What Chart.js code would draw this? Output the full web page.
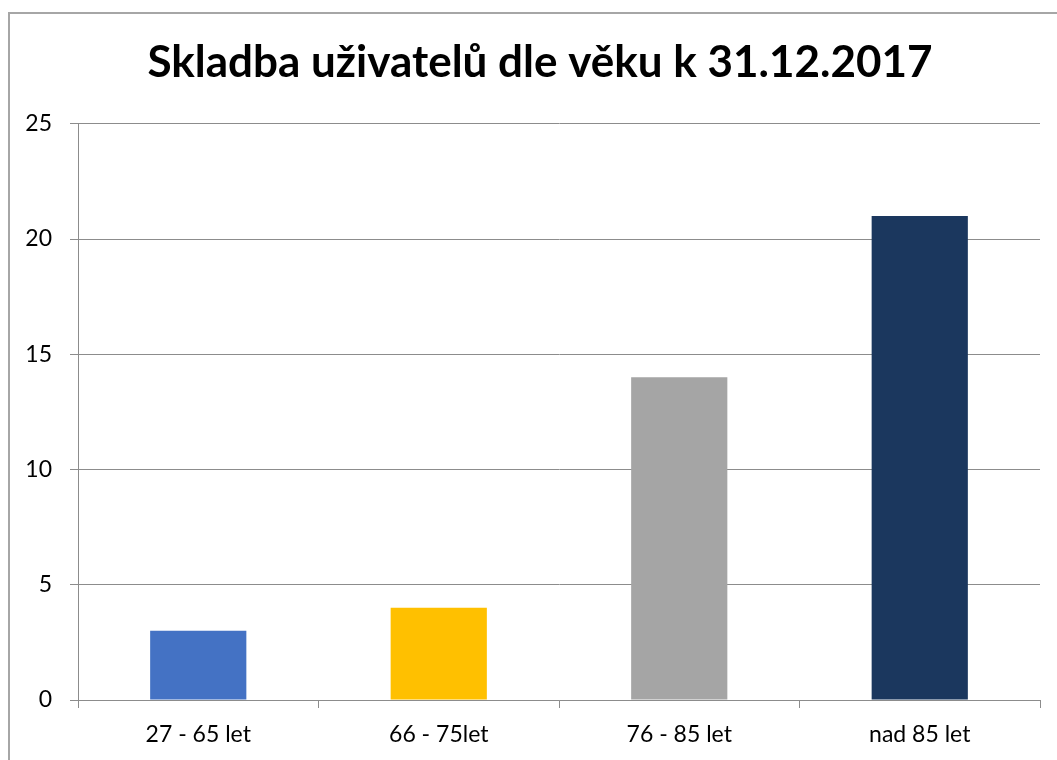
<!DOCTYPE html>
<html lang="cs">
<head>
    <meta charset="utf-8">
    <script src="https://cdn.jsdelivr.net/npm/chart.js"></script>
    <style>
        body { margin: 0; padding: 0; background: #ffffff; }
        #wrap { width: 1057px; height: 760px; }
    </style>
</head>
<body>
    <div id="wrap">
        <canvas id="barChart" width="1057" height="760"></canvas>
    </div>
    <script>
        // data
        const categories = ['27 - 65 let', '66 - 75let', '76 - 85 let', 'nad 85 let'];
        const values = [3, 4, 14, 21];
        const barColors = ['#4472C4', '#FFC000', '#A5A5A5', '#1B375E'];
        const yTicks = [0, 5, 10, 15, 20, 25];

        // outer frame of the chart (only top and left edges visible)
        const framePlugin = {
            id: 'frame',
            beforeDraw(chart) {
                const ctx = chart.ctx;
                ctx.save();
                ctx.strokeStyle = '#a6a6a6';
                ctx.lineWidth = 2;
                ctx.strokeRect(9, 13, 1100, 800);
                ctx.restore();
            }
        };

        const ctx = document.getElementById('barChart').getContext('2d');
        new Chart(ctx, {
            type: 'bar',
            data: {
                labels: categories,
                datasets: [{
                    data: values,
                    backgroundColor: barColors,
                    barPercentage: 0.4,
                    categoryPercentage: 1.0
                }]
            },
            options: {
                responsive: false,
                animation: false,
                // left padding pushes the title centre right, like the original frame
                layout: { padding: { left: 23, right: 0, top: 0, bottom: 0 } },
                plugins: {
                    legend: { display: false },
                    tooltip: { enabled: false },
                    title: {
                        display: true,
                        text: 'Skladba uživatelů dle věku k 31.12.2017',
                        color: '#000000',
                        font: { family: 'Lato', size: 44, weight: 'bold', lineHeight: 1.2 },
                        padding: { top: 36, bottom: 35 }
                    }
                },
                scales: {
                    x: {
                        grid: {
                            offset: true,
                            drawOnChartArea: false,
                            tickLength: 8,
                            color: '#8c8c8c'
                        },
                        border: { color: '#8c8c8c', width: 1 },
                        ticks: {
                            color: '#000000',
                            padding: 13,
                            font: { family: 'Lato', size: 23 }
                        },
                        afterFit(scale) { scale.height = 60; }
                    },
                    y: {
                        min: 0,
                        max: 25,
                        afterBuildTicks(scale) {
                            scale.ticks = yTicks.map(v => ({ value: v }));
                        },
                        grid: {
                            color: '#8c8c8c',
                            tickLength: 8
                        },
                        border: { color: '#8c8c8c', width: 1 },
                        ticks: {
                            color: '#000000',
                            padding: 18,
                            font: { family: 'Lato', size: 23 }
                        },
                        afterFit(scale) { scale.width = 55; }
                    },
                    // empty strip on the right so the plot ends at the same place
                    yRight: {
                        position: 'right',
                        grid: { display: false },
                        border: { display: false },
                        ticks: { display: false },
                        afterFit(scale) { scale.width = 17; }
                    }
                }
            },
            plugins: [framePlugin]
        });
    </script>
</body>
</html>
